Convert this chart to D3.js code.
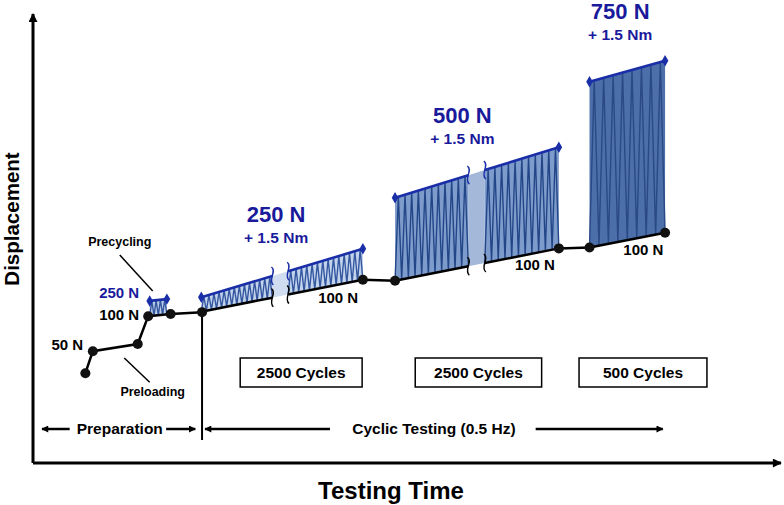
<!DOCTYPE html>
<html><head><meta charset="utf-8">
<script src="https://cdn.jsdelivr.net/npm/d3@7"></script>
<style>
body{margin:0;background:#fff}
svg{display:block}
text{font-family:"Liberation Sans",Arial,Helvetica,sans-serif;font-weight:bold}
</style>
</head><body>
<svg id="chart" width="784" height="505"></svg>
<script>
// ---------------- DATA (arbitrary time / displacement units) ----------------
const preloadTimes = [7.0, 8.0, 14.0, 15.4, 18.4, 22.6];
const preloadDisp  = [20.0, 24.9, 26.5, 32.7, 33.2, 33.6];

const blockNames        = ["Precycling", "250 N", "500 N", "750 N"];
const blockStartT       = [15.6, 22.5, 48.4, 74.4];
const blockEndT         = [17.9, 44.1, 70.3, 84.5];
const blockBottomStart  = [32.7, 33.7, 40.6, 48.0];
const blockBottomEnd    = [33.1, 40.8, 47.8, 51.3];
const blockTopStart     = [36.1, 36.9, 59.1, 84.9];
const blockTopEnd       = [36.5, 47.7, 70.3, 89.6];
const breakStartT       = [null, 32.0, 58.2, null];
const breakEndT         = [null, 34.1, 60.4, null];
const segmentTeeth      = [[4], [14, 14], [11, 11], [8]];

const connectorT = [[44.1, 48.4], [70.3, 74.4]];
const connectorD = [[40.8, 40.6], [47.8, 48.0]];

const dotTimes = [7.0, 8.0, 14.0, 15.4, 18.4, 22.6, 44.1, 48.4, 70.3, 74.4, 84.5];
const dotDisp  = [20.0, 24.9, 26.5, 32.7, 33.2, 33.6, 40.8, 40.6, 47.8, 48.0, 51.3];

const loadLabels   = ["250 N", "500 N", "750 N"];
const torqueLabel  = "+ 1.5 Nm";
const loadLabelT   = [32.5, 57.4, 78.5];
const loadLabelD   = [53.7, 75.7, 98.8];

const baseLabels  = ["100 N", "100 N", "100 N"];
const baseLabelT  = [40.8, 67.1, 81.6];
const baseLabelD  = [35.6, 43.0, 46.3];

const cycleLabels = ["2500 Cycles", "2500 Cycles", "500 Cycles"];
const cycleStartT = [27.7, 51.1, 73.0];
const cycleEndT   = [44.0, 68.0, 90.1];

const phaseLabels = ["Preparation", "Cyclic Testing (0.5 Hz)"];
const phaseLabelT = [11.6, 53.6];
const phaseLeftArrowT  = [[4.9, 1.2], [39.7, 23.0]];
const phaseRightArrowT = [[17.8, 21.7], [67.2, 84.2]];
const phaseDividerT = 22.6;

// ---------------- SETUP ----------------
const svg = d3.select("#chart");
const x = d3.scaleLinear().domain([0, 100]).range([33, 781]);
const y = d3.scaleLinear().domain([0, 100]).range([463, 14]);

const BLUE_TXT = "#1a1a9c";
const BLUE_LINE = "#1a2ea8";
const fills = ["#bccfea", "#c2d3ec", "#7e9ccb", "#4c6fa9"];
const breakFills = [null, "#d0dcef", "#a4b9da", null];
const zigColors = ["#3557a0", "#3557a0", "#234688", "#2a4986"];

const defs = svg.append("defs");
defs.append("marker").attr("id", "arrow")
  .attr("viewBox", "0 0 10 10").attr("refX", 9).attr("refY", 5)
  .attr("markerUnits", "userSpaceOnUse")
  .attr("markerWidth", 10).attr("markerHeight", 9).attr("orient", "auto")
  .append("path").attr("d", "M0,0 L10,5 L0,10 z").attr("fill", "#000");
defs.append("marker").attr("id", "arrowS")
  .attr("viewBox", "0 0 10 10").attr("refX", 9).attr("refY", 5)
  .attr("markerUnits", "userSpaceOnUse")
  .attr("markerWidth", 8).attr("markerHeight", 7).attr("orient", "auto")
  .append("path").attr("d", "M0,0 L10,5 L0,10 z").attr("fill", "#000");

// ---------------- AXES ----------------
svg.append("line").attr("x1", x(0)).attr("y1", y(0)).attr("x2", x(100)).attr("y2", y(0))
  .attr("stroke", "#000").attr("stroke-width", 3).attr("marker-end", "url(#arrow)");
svg.append("line").attr("x1", x(0)).attr("y1", y(0)).attr("x2", x(0)).attr("y2", y(100))
  .attr("stroke", "#000").attr("stroke-width", 3).attr("marker-end", "url(#arrow)");

svg.append("text").attr("transform", `translate(19,219) rotate(-90)`)
  .attr("text-anchor", "middle").attr("font-size", 20.5).text("Displacement");
svg.append("text").attr("x", 391).attr("y", 499)
  .attr("text-anchor", "middle").attr("font-size", 24).text("Testing Time");

// ---------------- BLOCKS ----------------
const diamond = d3.symbol().type(d3.symbolDiamond).size(38);

blockNames.forEach((name, i) => {
  const t0 = blockStartT[i], t1 = blockEndT[i];
  const bot = d3.scaleLinear().domain([t0, t1]).range([blockBottomStart[i], blockBottomEnd[i]]);
  const top = d3.scaleLinear().domain([t0, t1]).range([blockTopStart[i], blockTopEnd[i]]);
  const g = svg.append("g");
  const segs = breakStartT[i] == null ? [[t0, t1]] : [[t0, breakStartT[i]], [breakEndT[i], t1]];

  if (breakStartT[i] != null) {
    const a = breakStartT[i], b = breakEndT[i];
    g.append("path").attr("d",
      `M${x(a)},${y(bot(a))} L${x(a)},${y(top(a))} L${x(b)},${y(top(b))} L${x(b)},${y(bot(b))} Z`)
      .attr("fill", breakFills[i]);
  }

  segs.forEach((s, k) => {
    const [a, b] = s;
    g.append("path").attr("d",
      `M${x(a)},${y(bot(a))} L${x(a)},${y(top(a))} L${x(b)},${y(top(b))} L${x(b)},${y(bot(b))} Z`)
      .attr("fill", fills[i]);
    const n = segmentTeeth[i][k];
    const pts = d3.range(2 * n + 1).map(j => {
      const t = a + (b - a) * j / (2 * n);
      return [x(t), y(j % 2 === 0 ? bot(t) : top(t))];
    });
    g.append("path").attr("d", d3.line()(pts))
      .attr("fill", "none").attr("stroke", zigColors[i]).attr("stroke-width", 1.4);
    g.append("line").attr("x1", x(a)).attr("y1", y(top(a))).attr("x2", x(b)).attr("y2", y(top(b)))
      .attr("stroke", BLUE_LINE).attr("stroke-width", 2.6);
    if (i > 0) {
      g.append("line").attr("x1", x(a)).attr("y1", y(bot(a))).attr("x2", x(b)).attr("y2", y(bot(b)))
        .attr("stroke", "#000").attr("stroke-width", 2.5);
    }
  });

  if (breakStartT[i] != null) {
    [breakStartT[i], breakEndT[i]].forEach(t => {
      [[top(t), BLUE_LINE], [bot(t), "#000"]].forEach(([d, c]) => {
        const px = x(t), py = y(d);
        g.append("path")
          .attr("d", `M${px - 1},${py - 9} C${px + 5},${py - 5} ${px - 5},${py + 4} ${px + 1},${py + 9}`)
          .attr("fill", "none").attr("stroke", c).attr("stroke-width", 1.4);
      });
    });
  }

  [t0, t1].forEach(t => {
    g.append("path").attr("d", diamond)
      .attr("transform", `translate(${x(t)},${y(top(t))})`).attr("fill", BLUE_LINE);
  });
});

// ---------------- BASELINE PATH ----------------
const lineGen = d3.line().x(d => x(d[0])).y(d => y(d[1]));
svg.append("path").attr("d", lineGen(preloadTimes.map((t, i) => [t, preloadDisp[i]])))
  .attr("fill", "none").attr("stroke", "#000").attr("stroke-width", 2.5);
connectorT.forEach((c, i) => {
  svg.append("path").attr("d", lineGen([[c[0], connectorD[i][0]], [c[1], connectorD[i][1]]]))
    .attr("fill", "none").attr("stroke", "#000").attr("stroke-width", 2.5);
});

svg.append("line").attr("x1", x(phaseDividerT)).attr("x2", x(phaseDividerT))
  .attr("y1", y(preloadDisp[preloadDisp.length - 1])).attr("y2", 440)
  .attr("stroke", "#000").attr("stroke-width", 2);

svg.selectAll("circle.dot").data(dotTimes).join("circle").attr("class", "dot")
  .attr("cx", d => x(d)).attr("cy", (d, i) => y(dotDisp[i])).attr("r", 5).attr("fill", "#111");

// ---------------- LABELS ----------------
loadLabels.forEach((l, i) => {
  svg.append("text").attr("x", x(loadLabelT[i])).attr("y", y(loadLabelD[i]))
    .attr("text-anchor", "middle").attr("font-size", 22).attr("fill", BLUE_TXT).text(l);
  svg.append("text").attr("x", x(loadLabelT[i])).attr("y", y(loadLabelD[i]) + 21)
    .attr("text-anchor", "middle").attr("font-size", 15.5).attr("fill", BLUE_TXT).text(torqueLabel);
});
baseLabels.forEach((l, i) => {
  svg.append("text").attr("x", x(baseLabelT[i])).attr("y", y(baseLabelD[i]))
    .attr("text-anchor", "middle").attr("font-size", 15).attr("fill", "#000").text(l);
});

svg.append("text").attr("x", x(14.2)).attr("y", y(36.7)).attr("text-anchor", "end")
  .attr("font-size", 15).attr("fill", BLUE_TXT).text("250 N");
svg.append("text").attr("x", x(14.2)).attr("y", y(31.8)).attr("text-anchor", "end")
  .attr("font-size", 15).text("100 N");
svg.append("text").attr("x", x(6.7)).attr("y", y(25.2)).attr("text-anchor", "end")
  .attr("font-size", 15).text("50 N");
svg.append("text").attr("x", x(11.6)).attr("y", y(48.3)).attr("text-anchor", "middle")
  .attr("font-size", 12.5).text("Precycling");
svg.append("line").attr("x1", x(11.6)).attr("y1", y(46.3)).attr("x2", x(16.0)).attr("y2", y(38.3))
  .attr("stroke", "#000").attr("stroke-width", 1.5);
svg.append("text").attr("x", x(16.0)).attr("y", y(14.9)).attr("text-anchor", "middle")
  .attr("font-size", 12.5).text("Preloading");
svg.append("line").attr("x1", x(12.2)).attr("y1", y(23.4)).attr("x2", x(15.6)).attr("y2", y(18.0))
  .attr("stroke", "#000").attr("stroke-width", 1.5);

cycleLabels.forEach((l, i) => {
  const x0 = x(cycleStartT[i]), x1 = x(cycleEndT[i]);
  svg.append("rect").attr("x", x0).attr("y", 358).attr("width", x1 - x0).attr("height", 29)
    .attr("fill", "#fff").attr("stroke", "#000").attr("stroke-width", 1.5);
  svg.append("text").attr("x", (x0 + x1) / 2).attr("y", 378).attr("text-anchor", "middle")
    .attr("font-size", 15.5).text(l);
});

phaseLabels.forEach((l, i) => {
  svg.append("text").attr("x", x(phaseLabelT[i])).attr("y", 434).attr("text-anchor", "middle")
    .attr("font-size", 15.5).text(l);
  [phaseLeftArrowT[i], phaseRightArrowT[i]].forEach(a => {
    svg.append("line").attr("x1", x(a[0])).attr("y1", 429).attr("x2", x(a[1])).attr("y2", 429)
      .attr("stroke", "#000").attr("stroke-width", 2.5).attr("marker-end", "url(#arrowS)");
  });
});
</script>
</body></html>
